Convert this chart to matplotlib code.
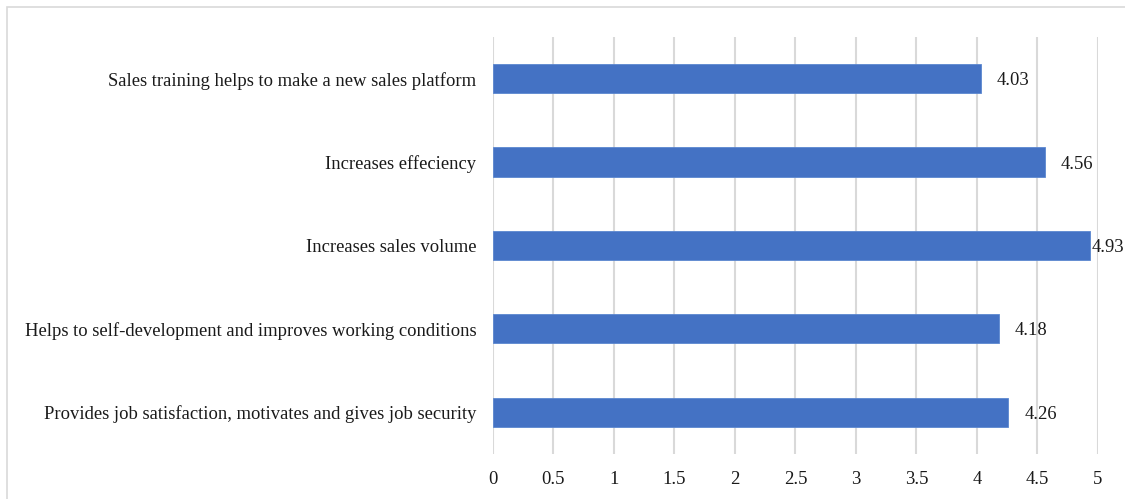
import matplotlib
matplotlib.use("Agg")
import matplotlib.pyplot as plt
from matplotlib.patches import Rectangle

plt.rcParams["font.family"] = ["Liberation Serif", "DejaVu Serif"]

CATEGORIES = [
    "Provides job satisfaction, motivates and gives job security",
    "Helps to self-development and improves working conditions",
    "Increases sales volume",
    "Increases effeciency",
    "Sales training helps to make a new sales platform",
]
SCORES = [4.26, 4.18, 4.93, 4.56, 4.03]
X_TICKS = [0, 0.5, 1, 1.5, 2, 2.5, 3, 3.5, 4, 4.5, 5]
X_TICK_LABELS = ["0", "0.5", "1", "1.5", "2", "2.5", "3", "3.5", "4", "4.5", "5"]

BAR_COLOR = "#4472C4"
GRID_COLOR = "#D9D9D9"
FONT_SIZE = 13.4

fig = plt.figure(figsize=(11.25, 4.99), dpi=100)
ax = fig.add_axes([0.4382, 0.0902, 0.5378, 0.8357])

ypos = range(len(CATEGORIES))
ax.barh(ypos, SCORES, height=0.35, color=BAR_COLOR, edgecolor="#5B87D0",
        linewidth=0.6, zorder=3)

for y, v in zip(ypos, SCORES):
    # labels near the right edge sit almost flush with the bar
    pad = 1.5 if v > 4.8 else 11.5
    ax.annotate(f"{v:.2f}", xy=(v, y), xytext=(pad, 0), textcoords="offset points",
                ha="left", va="center_baseline", fontsize=FONT_SIZE, color="#1a1a1a",
                annotation_clip=False, zorder=4)

ax.set_xlim(0, 5)
ax.set_ylim(-0.5, len(CATEGORIES) - 0.5)
ax.set_xticks(X_TICKS)
ax.set_xticklabels(X_TICK_LABELS)
ax.set_yticks(list(ypos))
ax.set_yticklabels(CATEGORIES)
ax.tick_params(axis="both", length=0, labelsize=FONT_SIZE, colors="#1a1a1a")
ax.tick_params(axis="x", pad=12)
ax.tick_params(axis="y", pad=12)

ax.xaxis.grid(True, color=GRID_COLOR, linewidth=1.5, zorder=0)
ax.set_axisbelow(True)
for s in ax.spines.values():
    s.set_visible(False)

# light frame around the chart area
fig.patches.append(Rectangle((7 / 1125, -0.05), 1.2, 1 - 7 / 499 + 0.05,
                             transform=fig.transFigure, fill=False,
                             edgecolor="#D9D9D9", linewidth=1.2))

fig.savefig("out.png", dpi=100, facecolor="white")
